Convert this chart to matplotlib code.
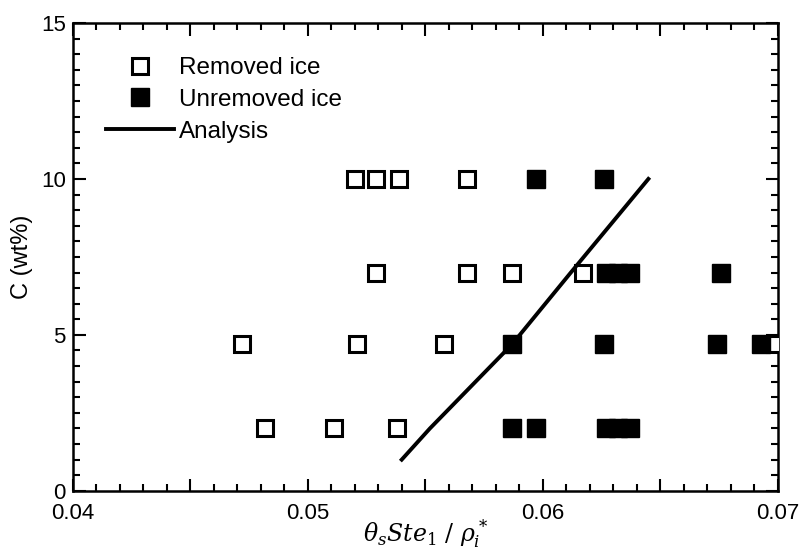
import matplotlib
matplotlib.use('Agg')
import matplotlib.pyplot as plt
from matplotlib.ticker import MultipleLocator

plt.rcParams['font.family'] = ['Liberation Sans', 'DejaVu Sans']
plt.rcParams['mathtext.fontset'] = 'dejavuserif'

# Removed ice (open squares)
removed_x = [0.0520, 0.0529, 0.0539, 0.0568,
             0.0529, 0.0568, 0.0587, 0.0617,
             0.0472, 0.0521, 0.0558, 0.0699,
             0.0482, 0.0511, 0.0538]
removed_y = [10, 10, 10, 10,
             7, 7, 7, 7,
             4.7, 4.7, 4.7, 4.7,
             2, 2, 2]

# Unremoved ice (filled squares)
unremoved_x = [0.0597, 0.0626,
               0.0627, 0.0632, 0.0637, 0.0676,
               0.0587, 0.0626, 0.0674, 0.0693,
               0.0587, 0.0597, 0.0627, 0.0632, 0.0637]
unremoved_y = [10, 10,
               7, 7, 7, 7,
               4.7, 4.7, 4.7, 4.7,
               2, 2, 2, 2, 2]

# Analysis curve
analysis_x = [0.0540, 0.0552, 0.0587, 0.0612, 0.0645]
analysis_y = [1.0, 2.0, 4.7, 7.0, 10.0]

fig = plt.figure(figsize=(8, 5.54), dpi=100)
ax = fig.add_axes([0.091, 0.114, 0.881, 0.8445])

ax.plot(removed_x, removed_y, 's', ms=11.5, mfc='white', mec='black',
        mew=2.2, label='Removed ice', zorder=3)
ax.plot(unremoved_x, unremoved_y, 's', ms=12.5, mfc='black', mec='black',
        mew=1, label='Unremoved ice', zorder=4)
ax.plot(analysis_x, analysis_y, '-', color='black', lw=2.8,
        label='Analysis', zorder=5)

ax.set_xlim(0.04, 0.07)
ax.set_ylim(0, 15)

ax.set_xticks([0.04, 0.045, 0.05, 0.055, 0.06, 0.065, 0.07])
ax.set_xticklabels(['0.04', '', '0.05', '', '0.06', '', '0.07'])
ax.xaxis.set_minor_locator(MultipleLocator(0.001))
ax.set_yticks([0, 5, 10, 15])
ax.yaxis.set_minor_locator(MultipleLocator(0.5))

ax.tick_params(which='both', direction='in', top=True, right=True,
               width=1.5, labelsize=16, colors='black')
ax.tick_params(which='major', length=9)
ax.tick_params(which='minor', length=5)
ax.tick_params(axis='x', which='major', pad=9)
ax.tick_params(axis='y', which='major', pad=5)
for s in ax.spines.values():
    s.set_linewidth(1.8)

ax.set_xlabel(r'$\theta_s Ste_1\ /\ \rho_i^*$', fontsize=17, labelpad=-5)
ax.set_ylabel('C (wt%)', fontsize=17, labelpad=6)

ax.legend(loc='upper left', bbox_to_anchor=(0.026, 0.958), frameon=False,
          fontsize=17.5, handlelength=2.8, handletextpad=0.2,
          labelspacing=0.4, borderaxespad=0.2)

fig.savefig('out.png', dpi=100)
